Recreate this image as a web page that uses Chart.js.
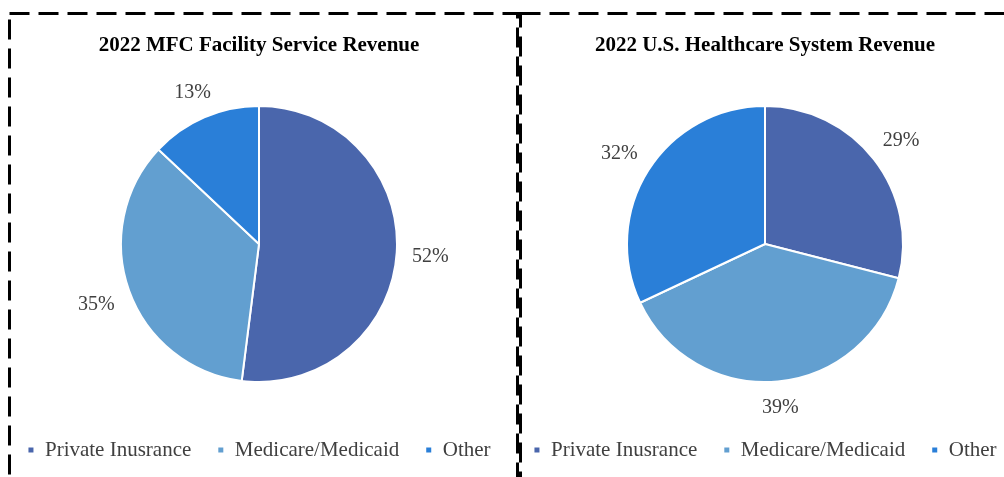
<!DOCTYPE html>
<html>
<head>
<meta charset="utf-8">
<script src="https://cdn.jsdelivr.net/npm/chart.js@4.4.0/dist/chart.umd.min.js"></script>
<style>
    body { margin: 0; width: 1004px; height: 477px; overflow: hidden; background: #fff; position: relative; }
    #frame { position: absolute; left: 0; top: 0; }
    .box { position: absolute; }
</style>
</head>
<body>
<svg id="frame" width="1004" height="477">
    <rect x="9.5" y="13.5" width="508" height="520" fill="none" stroke="#000" stroke-width="3" stroke-dasharray="20 9"/>
    <rect x="520.5" y="13.5" width="560" height="520" fill="none" stroke="#000" stroke-width="3" stroke-dasharray="20 9"/>
</svg>
<div class="box" style="left:-29px;top:15px;width:560px;height:462px"><canvas id="chart1"></canvas></div>
<div class="box" style="left:477px;top:15px;width:560px;height:462px"><canvas id="chart2"></canvas></div>
<script>
var categories = ['Private Inusrance', 'Medicare/Medicaid', 'Other'];
var mfcValues = [52, 35, 13];
var usValues = [29, 39, 32];
var titles = ['2022 MFC Facility Service Revenue', '2022 U.S. Healthcare System Revenue'];
var colors = ['#4a66ac', '#629fd0', '#2a7fd8'];

Chart.defaults.font.family = '"Liberation Serif", serif';
Chart.defaults.color = '#404040';

// percentage labels just outside each slice
var pctLabels = {
    id: 'pctLabels',
    afterDatasetsDraw: function(chart) {
        var ctx = chart.ctx;
        var meta = chart.getDatasetMeta(0);
        var data = chart.data.datasets[0].data;
        ctx.save();
        ctx.font = '20px "Liberation Serif"';
        ctx.fillStyle = '#404040';
        ctx.textAlign = 'center';
        ctx.textBaseline = 'middle';
        meta.data.forEach(function(arc, i) {
            var mid = (arc.startAngle + arc.endAngle) / 2;
            var txt = data[i] + '%';
            var w = ctx.measureText(txt).width;
            var h = 15;
            var dx = Math.cos(mid), dy = Math.sin(mid);
            var dist = arc.outerRadius + 15 + Math.abs(dx) * w / 2 + Math.abs(dy) * h / 2;
            ctx.fillText(txt, arc.x + dx * dist, arc.y + dy * dist + 2);
        });
        ctx.restore();
    }
};

function makePie(id, title, values) {
    return new Chart(document.getElementById(id), {
        type: 'pie',
        data: {
            labels: categories,
            datasets: [{
                data: values,
                backgroundColor: colors,
                borderColor: '#fff',
                borderWidth: 2,
                hoverOffset: 0,
                radius: 138
            }]
        },
        options: {
            responsive: true,
            maintainAspectRatio: false,
            animation: false,
            layout: { padding: { left: 16, right: 0, top: 0, bottom: 6.5 } },
            plugins: {
                title: {
                    display: true,
                    text: title,
                    color: '#000',
                    font: { size: 21, weight: 'bold' },
                    padding: { top: 18, bottom: 16.3 }
                },
                legend: {
                    position: 'bottom',
                    labels: {
                        boxWidth: 7,
                        boxHeight: 7,
                        padding: 26,
                        color: '#404040',
                        font: { size: 21 }
                    }
                },
                tooltip: { enabled: false }
            }
        },
        plugins: [pctLabels]
    });
}

makePie('chart1', titles[0], mfcValues);
makePie('chart2', titles[1], usValues);
</script>
</body>
</html>
